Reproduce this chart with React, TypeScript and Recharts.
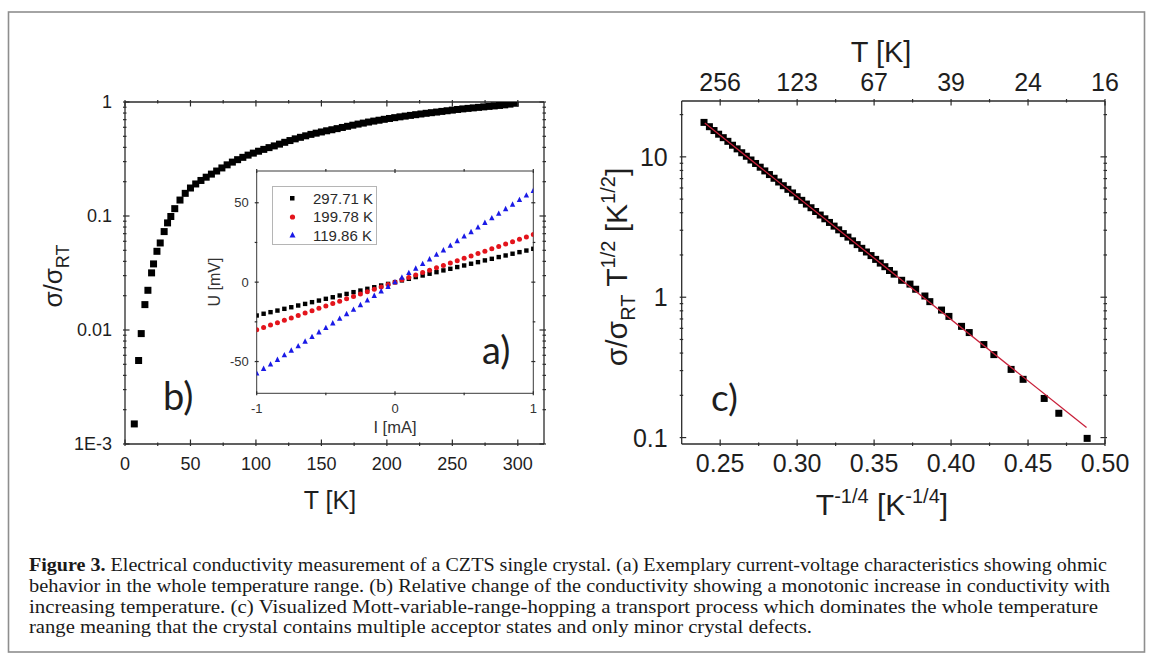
import React from "react";
import { ScatterChart, Scatter, XAxis, YAxis, CartesianGrid } from "recharts";

// ---- (b) relative conductivity vs temperature ----
const B_TEMP = [
  7.1, 10.4, 12.4, 15.2, 17.5, 20.3, 21.8, 24.4, 26.9, 29.9, 32.5, 35,
  38, 42, 46, 50, 54, 58, 62, 66, 70, 74, 78, 82, 86, 90, 94, 98, 102, 106, 110, 114,
  118, 122, 126, 130, 134, 138, 142, 146, 150, 154, 158, 162, 166, 170, 174, 178, 182,
  186, 190, 194, 198, 202, 206, 210, 214, 218, 222, 226, 230, 234, 238, 242, 246, 250,
  254, 258, 262, 266, 270, 274, 278, 282, 286, 290, 294, 298,
];
const B_SIGMA = [
  0.0015, 0.0054, 0.0093, 0.0167, 0.0223, 0.0317, 0.038, 0.049, 0.058, 0.073, 0.087, 0.099,
  0.116, 0.138, 0.158, 0.176, 0.191, 0.205, 0.219, 0.233, 0.248, 0.264, 0.281, 0.297, 0.312,
  0.327, 0.342, 0.356, 0.37, 0.384, 0.398, 0.412, 0.427, 0.443, 0.459, 0.475, 0.49, 0.505,
  0.52, 0.533, 0.546, 0.559, 0.571, 0.584, 0.598, 0.612, 0.626, 0.64, 0.653, 0.667, 0.68,
  0.692, 0.705, 0.717, 0.729, 0.741, 0.752, 0.763, 0.774, 0.785, 0.796, 0.806, 0.816, 0.827,
  0.838, 0.849, 0.86, 0.87, 0.879, 0.888, 0.897, 0.906, 0.915, 0.924, 0.933, 0.944, 0.958, 0.975,
];
const B_X_MAJOR = [0, 50, 100, 150, 200, 250, 300];
const B_X_MINOR = [25, 75, 125, 175, 225, 275];
const B_Y_MAJOR = [0.001, 0.01, 0.1, 1];
const B_Y_LABELS = ["1E-3", "0.01", "0.1", "1"];

// ---- (a) inset: I-V curves ----
const IV_CURRENT = [
  -1, -0.95, -0.9, -0.85, -0.8, -0.75, -0.7, -0.65, -0.6, -0.55, -0.5, -0.45, -0.4, -0.35,
  -0.3, -0.25, -0.2, -0.15, -0.1, -0.05, 0, 0.05, 0.1, 0.15, 0.2, 0.25, 0.3, 0.35, 0.4,
  0.45, 0.5, 0.55, 0.6, 0.65, 0.7, 0.75, 0.8, 0.85, 0.9, 0.95, 1,
];
const U_297 = [
  -21, -19.9, -18.9, -17.9, -16.8, -15.8, -14.7, -13.7, -12.6, -11.6, -10.5, -9.5, -8.4, -7.4,
  -6.3, -5.3, -4.2, -3.2, -2.1, -1.1, 0, 1.1, 2.1, 3.2, 4.2, 5.3, 6.3, 7.4, 8.4, 9.5, 10.5,
  11.6, 12.6, 13.7, 14.7, 15.8, 16.8, 17.9, 18.9, 19.9, 21,
];
const U_199 = [
  -30, -28.5, -27, -25.5, -24, -22.5, -21, -19.5, -18, -16.5, -15, -13.5, -12, -10.5, -9,
  -7.5, -6, -4.5, -3, -1.5, 0, 1.5, 3, 4.5, 6, 7.5, 9, 10.5, 12, 13.5, 15, 16.5, 18, 19.5,
  21, 22.5, 24, 25.5, 27, 28.5, 30,
];
const U_119 = [
  -57.5, -54.6, -51.8, -48.9, -46, -43.1, -40.3, -37.4, -34.5, -31.6, -28.8, -25.9, -23,
  -20.1, -17.3, -14.4, -11.5, -8.6, -5.8, -2.9, 0, 2.9, 5.8, 8.6, 11.5, 14.4, 17.3, 20.1,
  23, 25.9, 28.8, 31.6, 34.5, 37.4, 40.3, 43.1, 46, 48.9, 51.8, 54.6, 57.5,
];
const IV_NAMES = ["297.71 K", "199.78 K", "119.86 K"];
const IV_COLORS = ["#000000", "#e3141c", "#1a1ae6"];

// ---- (c) Mott VRH plot ----
const C_X = [
  0.2395, 0.243, 0.246, 0.249, 0.252, 0.255, 0.258, 0.261, 0.264, 0.267, 0.27, 0.273, 0.276,
  0.279, 0.282, 0.285, 0.288, 0.291, 0.294, 0.297, 0.3, 0.303, 0.306, 0.309, 0.312, 0.315,
  0.318, 0.321, 0.324, 0.327, 0.33, 0.333, 0.336, 0.339, 0.342, 0.345, 0.348, 0.351, 0.354,
  0.357, 0.36, 0.363, 0.3679, 0.3733, 0.377, 0.383, 0.3862, 0.3938, 0.3986, 0.4068, 0.4118,
  0.4213, 0.4278, 0.439, 0.4468, 0.4605, 0.47, 0.4884,
];
const C_Y = [
  17.6, 16.4, 15.4, 14.5, 13.7, 12.9, 12.1, 11.4, 10.7, 10.1, 9.5, 8.97, 8.44, 7.94, 7.48,
  7.04, 6.62, 6.23, 5.87, 5.53, 5.2, 4.9, 4.61, 4.34, 4.08, 3.85, 3.62, 3.41, 3.21, 3.02,
  2.84, 2.68, 2.52, 2.37, 2.23, 2.1, 1.98, 1.86, 1.75, 1.65, 1.55, 1.46, 1.32, 1.24, 1.14,
  1.02, 0.93, 0.81, 0.73, 0.62, 0.56, 0.46, 0.39, 0.306, 0.26, 0.19, 0.149, 0.0987,
];
const FIT_X = [0.24, 0.488];
const FIT_Y = [17.4, 0.118];
const C_X_MAJOR = [0.25, 0.3, 0.35, 0.4, 0.45, 0.5];
const C_X_LABELS = ["0.25", "0.30", "0.35", "0.40", "0.45", "0.50"];
const C_X_MINOR = [0.275, 0.325, 0.375, 0.425, 0.475];
const C_TOP_LABELS = ["256", "123", "67", "39", "24", "16"];
const C_Y_MAJOR = [0.1, 1, 10];
const C_Y_LABELS = ["0.1", "1", "10"];

const minorLog = (decades: number[]) =>
  decades.flatMap((d) => [2, 3, 4, 5, 6, 7, 8, 9].map((k) => +(k * d).toPrecision(3)));

const bData = B_TEMP.map((t, i) => ({ x: t, y: B_SIGMA[i] }));
const cData = C_X.map((x, i) => ({ x, y: C_Y[i] }));
const fitData = FIT_X.map((x, i) => ({ x, y: FIT_Y[i] }));
const ivSeries = [U_297, U_199, U_119].map((u) => IV_CURRENT.map((x, i) => ({ x, y: u[i] })));

const SANS = '"Liberation Sans", Arial, sans-serif';
const AXIS = { stroke: "#2b2b2b", strokeWidth: 1.3 };
const AXIS_A = { stroke: "#3a3a3a", strokeWidth: 1 };

type Side = "bottom" | "top" | "left" | "right";

// inward ticks (majors long + labelled, minors short)
function tickFn(
  side: Side,
  majors: number[],
  labels: string[] | null,
  o: { len: number; minor: number; font: number; gap: number; color?: string }
) {
  return (p: any) => {
    const { x, y, payload } = p;
    const v = payload.value;
    const idx = majors.findIndex((m) => Math.abs(m - v) <= 1e-6 * Math.max(1e-3, Math.abs(m)));
    const L = idx >= 0 ? o.len : o.minor;
    const stroke = "#2b2b2b";
    const lab = idx >= 0 && labels ? labels[idx] : null;
    const fill = o.color || "#1e1e1e";
    let line: React.ReactNode;
    let text: React.ReactNode = null;
    if (side === "bottom") {
      line = <line x1={x} x2={x} y1={y} y2={y - L} stroke={stroke} strokeWidth={1.2} />;
      if (lab) text = <text x={x} y={y + o.gap} textAnchor="middle" fontSize={o.font} fontFamily={SANS} fill={fill}>{lab}</text>;
    } else if (side === "top") {
      line = <line x1={x} x2={x} y1={y} y2={y + L} stroke={stroke} strokeWidth={1.2} />;
      if (lab) text = <text x={x} y={y - o.gap} textAnchor="middle" fontSize={o.font} fontFamily={SANS} fill={fill}>{lab}</text>;
    } else if (side === "left") {
      line = <line x1={x} x2={x + L} y1={y} y2={y} stroke={stroke} strokeWidth={1.2} />;
      if (lab) text = <text x={x - o.gap} y={y} dy="0.36em" textAnchor="end" fontSize={o.font} fontFamily={SANS} fill={fill}>{lab}</text>;
    } else {
      line = <line x1={x} x2={x - L} y1={y} y2={y} stroke={stroke} strokeWidth={1.2} />;
    }
    return (
      <g>
        {line}
        {text}
      </g>
    );
  };
}

const square = (s: number, fill: string) => (p: any) =>
  <rect x={p.cx - s / 2} y={p.cy - s / 2} width={s} height={s} fill={fill} />;
const circle = (r: number, fill: string) => (p: any) => <circle cx={p.cx} cy={p.cy} r={r} fill={fill} />;
const triangle = (s: number, fill: string) => (p: any) => (
  <polygon
    points={`${p.cx},${p.cy - s * 0.6} ${p.cx - s / 2},${p.cy + s * 0.4} ${p.cx + s / 2},${p.cy + s * 0.4}`}
    fill={fill}
  />
);
const nothing = () => <g />;
const IV_SHAPES = [square(4.4, IV_COLORS[0]), circle(2.5, IV_COLORS[1]), triangle(5.4, IV_COLORS[2])];

function IVLegend() {
  return (
    <div style={{ position: "absolute", left: 272, top: 186, width: 105, height: 59, border: "1px solid #b5b5b5",
      background: "#fff", boxSizing: "border-box", paddingTop: 2 }}>
      {IV_NAMES.map((name, i) => (
        <div key={i} style={{ display: "flex", alignItems: "center", height: 18.5, fontFamily: SANS, fontSize: 15, color: "#2a2a2a" }}>
          <svg width={40} height={14} style={{ flex: "none" }}>
            {i === 0 && <rect x={17} y={5} width={4.5} height={4.5} fill={IV_COLORS[0]} />}
            {i === 1 && <circle cx={19.5} cy={7} r={2.6} fill={IV_COLORS[1]} />}
            {i === 2 && <polygon points="19.5,3.8 16.5,9.5 22.5,9.5" fill={IV_COLORS[2]} />}
          </svg>
          <span>{name}</span>
        </div>
      ))}
    </div>
  );
}

export default function App() {
  const bTick = { len: 6.5, minor: 3.5, font: 18, gap: 24 };
  const bLeft = { len: 6.5, minor: 3.5, font: 18, gap: 11 };
  const cTick = { len: 6.5, minor: 3.5, font: 25, gap: 25.5 };
  const cTop = { len: 6.5, minor: 3.5, font: 25, gap: 8 };
  const cLeft = { len: 6.5, minor: 3.5, font: 25, gap: 12 };
  const aTick = { len: 4, minor: 2.5, font: 13, gap: 17.5, color: "#333" };
  const aLeft = { len: 4, minor: 2.5, font: 13, gap: 6, color: "#333" };

  const bXTicks = [...B_X_MAJOR, ...B_X_MINOR].sort((a, b) => a - b);
  const bYTicks = [...B_Y_MAJOR, ...minorLog([0.001, 0.01, 0.1])].sort((a, b) => a - b);
  const cXTicks = [...C_X_MAJOR, ...C_X_MINOR].sort((a, b) => a - b);
  const cYTicks = [...C_Y_MAJOR, ...minorLog([0.1, 1]), 20].sort((a, b) => a - b);
  const aXTicks = [-1, -0.5, 0, 0.5, 1];
  const aYTicks = [-50, -25, 0, 25, 50];

  return (
    <div style={{ position: "absolute", left: 0, top: 0, width: 1153, height: 657, background: "#fff", overflow: "hidden" }}>
      {/* panel b */}
      <div style={{ position: "absolute", left: 0, top: 0 }}>
        <ScatterChart width={560} height={520} margin={{ top: 101, right: 15, bottom: 75, left: 124 }}>
          <XAxis xAxisId="b" type="number" dataKey="x" domain={[0, 320]} allowDataOverflow ticks={bXTicks} interval={0}
            height={1} tickSize={0} tickLine={false} axisLine={AXIS} tick={tickFn("bottom", B_X_MAJOR, B_X_MAJOR.map(String), bTick)} />
          <XAxis xAxisId="t" orientation="top" type="number" dataKey="x" domain={[0, 320]} allowDataOverflow ticks={bXTicks} interval={0}
            height={1} tickSize={0} tickLine={false} axisLine={AXIS} tick={tickFn("top", B_X_MAJOR, null, bTick)} />
          <YAxis yAxisId="l" type="number" dataKey="y" scale="log" domain={[0.001, 1]} allowDataOverflow ticks={bYTicks} interval={0}
            width={1} tickSize={0} tickLine={false} axisLine={AXIS} tick={tickFn("left", B_Y_MAJOR, B_Y_LABELS, bLeft)} />
          <YAxis yAxisId="r" orientation="right" type="number" dataKey="y" scale="log" domain={[0.001, 1]} allowDataOverflow ticks={bYTicks} interval={0}
            width={1} tickSize={0} tickLine={false} axisLine={AXIS} tick={tickFn("right", B_Y_MAJOR, null, bLeft)} />
          <Scatter xAxisId="b" yAxisId="l" data={bData} shape={square(7, "#000")} isAnimationActive={false} />
          <Scatter xAxisId="t" yAxisId="r" data={bData} shape={nothing} isAnimationActive={false} />
        </ScatterChart>
      </div>

      {/* inset a */}
      <div style={{ position: "absolute", left: 200, top: 150 }}>
        <ScatterChart width={345} height={300} margin={{ top: 20, right: 10.7, bottom: 55.7, left: 55.7 }}>
          <CartesianGrid horizontal={false} vertical={false} fill="#fff" xAxisId="ab" yAxisId="al" />
          <XAxis xAxisId="ab" type="number" dataKey="x" domain={[-1, 1]} allowDataOverflow ticks={aXTicks} interval={0}
            height={1} tickSize={0} tickLine={false} axisLine={AXIS_A}
            tick={tickFn("bottom", [-1, 0, 1], ["-1", "0", "1"], aTick)} />
          <XAxis xAxisId="at" orientation="top" type="number" dataKey="x" domain={[-1, 1]} allowDataOverflow ticks={aXTicks} interval={0}
            height={1} tickSize={0} tickLine={false} axisLine={AXIS_A}
            tick={tickFn("top", [-1, 0, 1], null, aTick)} />
          <YAxis yAxisId="al" type="number" dataKey="y" domain={[-70, 70]} allowDataOverflow ticks={aYTicks} interval={0}
            width={1} tickSize={0} tickLine={false} axisLine={AXIS_A}
            tick={tickFn("left", [-50, 0, 50], ["-50", "0", "50"], aLeft)} />
          <YAxis yAxisId="ar" orientation="right" type="number" dataKey="y" domain={[-70, 70]} allowDataOverflow ticks={aYTicks} interval={0}
            width={1} tickSize={0} tickLine={false} axisLine={AXIS_A}
            tick={tickFn("right", [-50, 0, 50], null, aLeft)} />
          {ivSeries.map((d, i) => (
            <Scatter key={i} name={IV_NAMES[i]} xAxisId="ab" yAxisId="al" data={d} fill={IV_COLORS[i]}
              shape={IV_SHAPES[i]} isAnimationActive={false} />
          ))}
          <Scatter xAxisId="at" yAxisId="ar" data={ivSeries[2]} shape={nothing} isAnimationActive={false} />
        </ScatterChart>
      </div>
      <IVLegend />

      {/* panel c */}
      <div style={{ position: "absolute", left: 560, top: 0 }}>
        <ScatterChart width={593} height={520} margin={{ top: 100, right: 47, bottom: 75, left: 120.7 }}>
          <XAxis xAxisId="b" type="number" dataKey="x" domain={[0.225, 0.5]} allowDataOverflow ticks={cXTicks} interval={0}
            height={1} tickSize={0} tickLine={false} axisLine={AXIS} tick={tickFn("bottom", C_X_MAJOR, C_X_LABELS, cTick)} />
          <XAxis xAxisId="t" orientation="top" type="number" dataKey="x" domain={[0.225, 0.5]} allowDataOverflow ticks={cXTicks} interval={0}
            height={1} tickSize={0} tickLine={false} axisLine={AXIS} tick={tickFn("top", C_X_MAJOR, C_TOP_LABELS, cTop)} />
          <YAxis yAxisId="l" type="number" dataKey="y" scale="log" domain={[0.09, 25]} allowDataOverflow ticks={cYTicks} interval={0}
            width={1} tickSize={0} tickLine={false} axisLine={AXIS} tick={tickFn("left", C_Y_MAJOR, C_Y_LABELS, cLeft)} />
          <YAxis yAxisId="r" orientation="right" type="number" dataKey="y" scale="log" domain={[0.09, 25]} allowDataOverflow ticks={cYTicks} interval={0}
            width={1} tickSize={0} tickLine={false} axisLine={AXIS} tick={tickFn("right", C_Y_MAJOR, null, cLeft)} />
          <Scatter xAxisId="b" yAxisId="l" data={cData} shape={square(7, "#000")} isAnimationActive={false} />
          <Scatter xAxisId="b" yAxisId="l" data={fitData} shape={nothing} line={{ stroke: "#c8203a", strokeWidth: 1.3 }}
            lineType="joint" isAnimationActive={false} />
          <Scatter xAxisId="t" yAxisId="r" data={cData} shape={nothing} isAnimationActive={false} />
        </ScatterChart>
      </div>

      {/* titles, panel letters, caption, frame */}
      <svg width={1153} height={657} style={{ position: "absolute", left: 0, top: 0, pointerEvents: "none" }}>
        <rect x={8.5} y={12} width={1136} height={640} fill="none" stroke="#8e8e8e" strokeWidth={1.6} />

        <text transform="translate(62,276) rotate(-90)" textAnchor="middle" fontFamily={SANS} fontSize={26} fill="#1e1e1e">
          σ/σ<tspan dy={7} fontSize={18}>RT</tspan>
        </text>
        <text x={330} y={509} textAnchor="middle" fontFamily={SANS} fontSize={25} fill="#1e1e1e">T [K]</text>
        <text x={214} y={282} transform="rotate(-90 214 282)" textAnchor="middle" dy="0.35em" fontFamily={SANS} fontSize={16} fill="#333">U [mV]</text>
        <text x={395} y={433} textAnchor="middle" fontFamily={SANS} fontSize={16.5} fill="#333">I [mA]</text>

        <text x={881} y={62} textAnchor="middle" fontFamily={SANS} fontSize={29} fill="#1e1e1e">T [K]</text>
        <text x={882} y={515} textAnchor="middle" fontFamily={SANS} fontSize={30} fill="#1e1e1e">
          T<tspan dy={-12} fontSize={20}>-1/4</tspan><tspan dy={12}> [K</tspan><tspan dy={-12} fontSize={20}>-1/4</tspan><tspan dy={12}>]</tspan>
        </text>
        <text transform="translate(627,267) rotate(-90)" textAnchor="middle" fontFamily={SANS} fontSize={30} fill="#1e1e1e">
          σ/σ<tspan dy={8} fontSize={20}>RT</tspan><tspan dy={-8}> T</tspan><tspan dy={-12} fontSize={20}>1/2</tspan>
          <tspan dy={12}> [K</tspan><tspan dy={-12} fontSize={20}>1/2</tspan><tspan dy={12}>]</tspan>
        </text>

        <text x={163} y={410} fontFamily="Lato, sans-serif" fontSize={38} fill="#1e1e1e">b)</text>
        <text x={482} y={364} fontFamily="Lato, sans-serif" fontSize={38} fill="#1e1e1e">a)</text>
        <text x={711} y={411} fontFamily="Lato, sans-serif" fontSize={37} fill="#1e1e1e">c)</text>

        <g fontFamily='"Liberation Serif", serif' fontSize={18} fill="#1a1a1a">
          <text x={29} y={571} textLength={1078} lengthAdjust="spacingAndGlyphs">
            <tspan fontWeight="bold">Figure 3.</tspan>
            {" Electrical conductivity measurement of a CZTS single crystal. (a) Exemplary current-voltage characteristics showing ohmic"}
          </text>
          <text x={29} y={592} textLength={1081} lengthAdjust="spacingAndGlyphs">
            behavior in the whole temperature range. (b) Relative change of the conductivity showing a monotonic increase in conductivity with
          </text>
          <text x={29} y={613} textLength={1069} lengthAdjust="spacingAndGlyphs">
            increasing temperature. (c) Visualized Mott-variable-range-hopping a transport process which dominates the whole temperature
          </text>
          <text x={29} y={633} textLength={783} lengthAdjust="spacingAndGlyphs">
            range meaning that the crystal contains multiple acceptor states and only minor crystal defects.
          </text>
        </g>
      </svg>
    </div>
  );
}
